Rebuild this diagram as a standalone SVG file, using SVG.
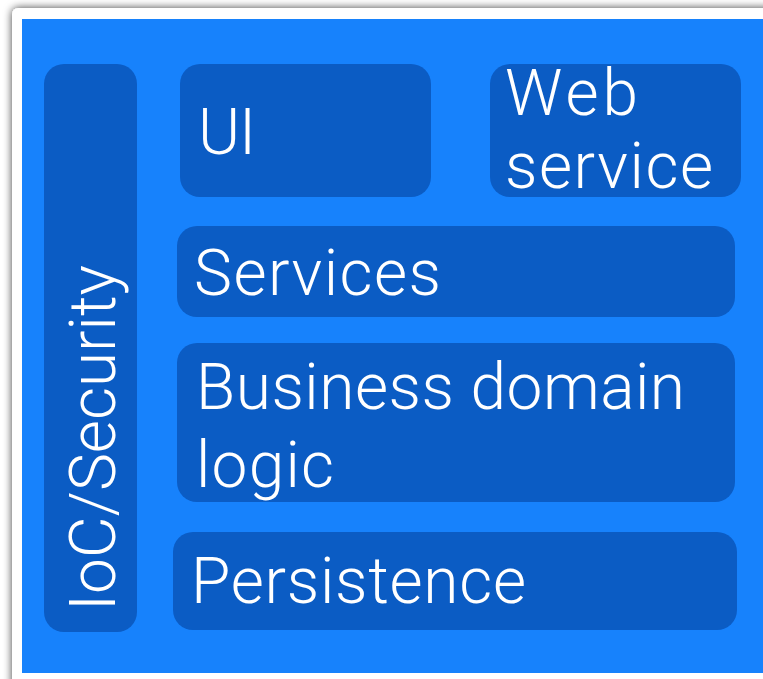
<svg xmlns="http://www.w3.org/2000/svg" width="763" height="679" viewBox="0 0 763 679">
<defs>
<filter id="sh" x="-10%" y="-10%" width="120%" height="120%">
<feDropShadow dx="0" dy="0" stdDeviation="4.5" flood-color="#000" flood-opacity="0.75"/>
</filter>
<style>
.box{fill:#0B5CC4;}
.lbl{fill:#fff;font-family:Roboto,"Liberation Sans",Arial,sans-serif;font-weight:300;font-size:64px;}
</style>
</defs>
<rect x="0" y="0" width="763" height="679" fill="#fff"/>
<rect x="12" y="8" width="800" height="720" rx="6" fill="#fff" filter="url(#sh)"/>
<rect x="22" y="19" width="741" height="654" fill="#1782FC"/>
<g id="ioc">
<rect class="box" x="44" y="64" width="93" height="568" rx="20"/>
<text class="lbl" transform="translate(115,611) rotate(-90)" textLength="346" lengthAdjust="spacing">IoC/Security</text>
</g>
<g id="ui">
<rect class="box" x="180" y="64" width="251" height="133" rx="20"/>
<text class="lbl" x="198" y="154" textLength="58" lengthAdjust="spacing">UI</text>
</g>
<g id="webservice">
<rect class="box" x="490" y="64" width="251" height="133" rx="20"/>
<text class="lbl" x="505" y="115" textLength="133" lengthAdjust="spacing">Web</text>
<text class="lbl" x="505" y="188" textLength="208" lengthAdjust="spacing">service</text>
</g>
<g id="services">
<rect class="box" x="177" y="226" width="558" height="91" rx="20"/>
<text class="lbl" x="194" y="295" textLength="247" lengthAdjust="spacing">Services</text>
</g>
<g id="business">
<rect class="box" x="177" y="343" width="558" height="159" rx="20"/>
<text class="lbl" x="196" y="409" textLength="489" lengthAdjust="spacing">Business domain</text>
<text class="lbl" x="196" y="487" textLength="138" lengthAdjust="spacing">logic</text>
</g>
<g id="persistence">
<rect class="box" x="173" y="532" width="564" height="98" rx="20"/>
<text class="lbl" x="191" y="603" textLength="335" lengthAdjust="spacing">Persistence</text>
</g>
<g id="connectors"/>
</svg>
